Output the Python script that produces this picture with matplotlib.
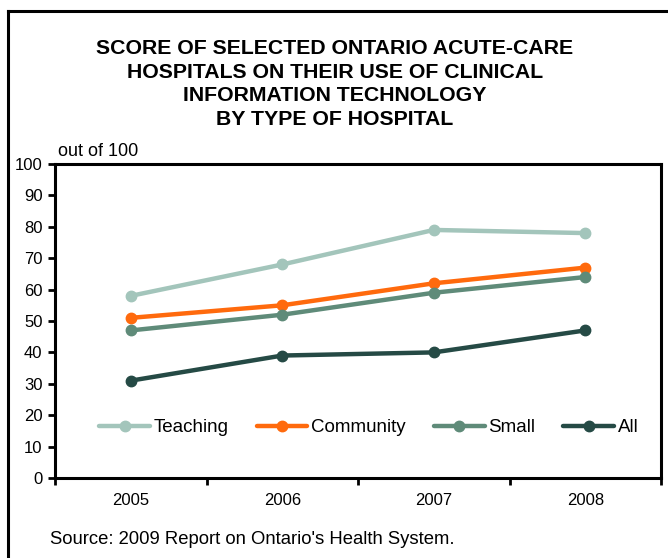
import matplotlib
matplotlib.use("Agg")
import matplotlib.pyplot as plt
from matplotlib.lines import Line2D

plt.rcParams['font.family'] = ['Liberation Sans', 'DejaVu Sans']

years = ["2005", "2006", "2007", "2008"]
teaching = [58, 68, 79, 78]
community = [51, 55, 62, 67]
small = [47, 52, 59, 64]
all_h = [31, 39, 40, 47]
series_names = ["Teaching", "Community", "Small", "All"]
colors = ["#A3C5BB", "#FF6A0D", "#5F8B79", "#254A45"]

W, H = 668, 558
fig = plt.figure(figsize=(W/100, H/100), dpi=100)

# outer frame (left and top only visible)
fig.add_artist(Line2D([8/W, 8/W], [0, 1-11/H], color="black", lw=2.2, transform=fig.transFigure))
fig.add_artist(Line2D([8/W, 1.0], [1-11/H, 1-11/H], color="black", lw=2.2, transform=fig.transFigure))

ax = fig.add_axes([55/W, 1-478/H, (661-55)/W, (478-164)/H])
x = list(range(len(years)))
for vals, name, c in zip([teaching, community, small, all_h], series_names, colors):
    ax.plot(x, vals, color=c, lw=3.2, marker="o", ms=7.5, label=name, solid_capstyle="round")

ax.set_xlim(-0.5, 3.5)
ax.set_ylim(0, 100)
ax.set_yticks(range(0, 101, 10))
ax.set_xticks([i - 0.5 for i in range(5)])
ax.set_xticklabels([])
ax.set_xticks(x, minor=True)
ax.set_xticklabels(years, minor=True)
ax.tick_params(axis="x", which="minor", length=0, pad=11, labelsize=12)
ax.tick_params(axis="x", which="major", length=5, width=2, direction="out")
ax.tick_params(axis="y", length=5, width=2, direction="out", labelsize=12, pad=4)
for s in ax.spines.values():
    s.set_linewidth(2.2)

leg = ax.legend(loc="center", bbox_to_anchor=(0.518, 0.16), ncol=4, frameon=False,
                fontsize=13.5, handlelength=2.7, columnspacing=1.5, handletextpad=0.2,
                borderpad=0, borderaxespad=0)

fig.text(335/W, 1-84/H, "SCORE OF SELECTED ONTARIO ACUTE-CARE\nHOSPITALS ON THEIR USE OF CLINICAL\nINFORMATION TECHNOLOGY\nBY TYPE OF HOSPITAL",
         ha="center", va="center", fontsize=15.3, fontweight="bold", linespacing=1.32)
fig.text(58/W, 1-152/H, "out of 100", ha="left", va="center", fontsize=13)
fig.text(50/W, 1-539/H, "Source: 2009 Report on Ontario's Health System.", ha="left", va="center", fontsize=13.3)

fig.savefig("out.png", dpi=100)
